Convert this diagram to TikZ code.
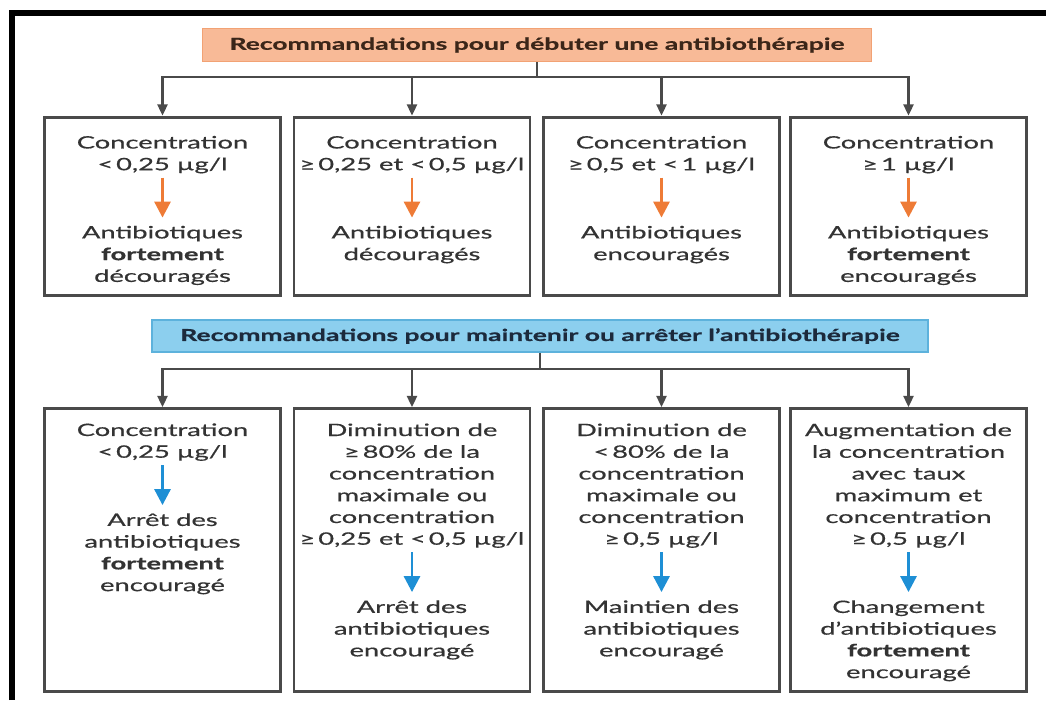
\documentclass[tikz,border=0pt]{standalone}
\usepackage{fontspec}
\setmainfont{Lato}[FakeStretch=1.6, FakeBold=0.6]
\usetikzlibrary{positioning,arrows.meta}

\definecolor{hdrorange}{HTML}{F8BA97}
\definecolor{hdrorangeline}{HTML}{F2A274}
\definecolor{hdrblue}{HTML}{8CCFEE}
\definecolor{hdrblueline}{HTML}{5DB2DC}
\definecolor{arroworange}{HTML}{EE7B36}
\definecolor{arrowblue}{HTML}{1E8FD5}
\definecolor{boxgray}{HTML}{4A4A4A}
\definecolor{txtgray}{HTML}{333333}
\definecolor{hdrtxtbrown}{HTML}{3B2619}
\definecolor{hdrtxtnavy}{HTML}{1C2A3C}

\begin{document}
\begin{tikzpicture}[x=0.75pt,y=-0.75pt,
    font=\fontsize{12.8}{16.3}\selectfont,
    hdr/.style={inner sep=0pt, line width=1pt, font=\fontsize{12.4}{14}\selectfont\bfseries},
    box/.style={draw=boxgray, line width=2.2pt, minimum width=177pt, inner sep=0pt},
    txt/.style={align=center, inner sep=0pt, text=txtgray},
    down/.style={draw=boxgray, line width=1.8pt, -{Triangle[width=7.5pt,length=8.5pt]}},
    oarrow/.style={draw=arroworange, line width=2.2pt, shorten <=3pt, shorten >=6pt, -{Triangle[width=12pt,length=12pt]}},
    barrow/.style={draw=arrowblue, line width=2.2pt, shorten <=3pt, shorten >=6pt, -{Triangle[width=12pt,length=12pt]}}]
    \useasboundingbox (0,0) rectangle (1046,700);

    % Frame (cropped)
    \draw[line width=4.5pt] (11.5,700) |- (1046,13);

    % Headers
    \node[hdr, fill=hdrorange, draw=hdrorangeline, text=hdrtxtbrown, minimum width=502pt, minimum height=25pt] (start) at (537,45) {Recommandations pour débuter une antibiothérapie};
    \node[hdr, fill=hdrblue, draw=hdrblueline, text=hdrtxtnavy, minimum width=582pt, minimum height=24pt] (keep) at (540,336) {Recommandations pour maintenir ou arrêter l’antibiothérapie};

    % Junctions
    \coordinate (j1) at (537,77);
    \coordinate (j2) at (540,369);

    % First row boxes
    \node[box, minimum height=134pt] (c1) at (162.5,206.5) {};
    \node[box, minimum height=134pt] (c2) at (412,206.5) {};
    \node[box, minimum height=134pt] (c3) at (661.5,206.5) {};
    \node[box, minimum height=134pt] (c4) at (908.5,206.5) {};

    % Second row boxes
    \node[box, minimum height=212pt] (m1) at (162.5,550) {};
    \node[box, minimum height=212pt] (m2) at (412,550) {};
    \node[box, minimum height=212pt] (m3) at (661.5,550) {};
    \node[box, minimum height=212pt] (m4) at (908.5,550) {};

    % Tree connectors
    \draw[draw=boxgray, line width=1.8pt] (start) -- (j1);
    \draw[down] (j1) -| (c1.north);
    \draw[down] (j1) -| (c2.north);
    \draw[down] (j1) -| (c3.north);
    \draw[down] (j1) -| (c4.north);
    \draw[draw=boxgray, line width=1.8pt] (keep) -- (j2);
    \draw[down] (j2) -| (m1.north);
    \draw[down] (j2) -| (m2.north);
    \draw[down] (j2) -| (m3.north);
    \draw[down] (j2) -| (m4.north);

    % First row texts
    \node[txt, anchor=north] (c1a) at ([yshift=-15pt]c1.north) {Concentration\\<\,0,25 µg/l};
    \node[txt, below=39pt of c1a] (c1b) {Antibiotiques\\{\bfseries fortement}\\découragés};
    \node[txt, anchor=north] (c2a) at ([yshift=-15pt]c2.north) {Concentration\\≥\,0,25 et <\,0,5 µg/l};
    \node[txt, below=39pt of c2a] (c2b) {Antibiotiques\\découragés};
    \node[txt, anchor=north] (c3a) at ([yshift=-15pt]c3.north) {Concentration\\≥\,0,5 et <\,1 µg/l};
    \node[txt, below=39pt of c3a] (c3b) {Antibiotiques\\encouragés};
    \node[txt, anchor=north] (c4a) at ([yshift=-15pt]c4.north) {Concentration\\≥\,1 µg/l};
    \node[txt, below=39pt of c4a] (c4b) {Antibiotiques\\{\bfseries fortement}\\encouragés};

    \draw[oarrow] (c1a) -- (c1b);
    \draw[oarrow] (c2a) -- (c2b);
    \draw[oarrow] (c3a) -- (c3b);
    \draw[oarrow] (c4a) -- (c4b);

    % Second row texts
    \node[txt, anchor=north] (m1a) at ([yshift=-12pt]m1.north) {Concentration\\<\,0,25 µg/l};
    \node[txt, below=39pt of m1a] (m1b) {Arrêt des\\antibiotiques\\{\bfseries fortement}\\encouragé};
    \node[txt, anchor=north] (m2a) at ([yshift=-12pt]m2.north) {Diminution de\\≥\,80\% de la\\concentration\\maximale ou\\concentration\\≥\,0,25 et <\,0,5 µg/l};
    \node[txt, below=39pt of m2a] (m2b) {Arrêt des\\antibiotiques\\encouragé};
    \node[txt, anchor=north] (m3a) at ([yshift=-12pt]m3.north) {Diminution de\\<\,80\% de la\\concentration\\maximale ou\\concentration\\≥\,0,5 µg/l};
    \node[txt, below=39pt of m3a] (m3b) {Maintien des\\antibiotiques\\encouragé};
    \node[txt, anchor=north] (m4a) at ([yshift=-12pt]m4.north) {Augmentation de\\la concentration\\avec taux\\maximum et\\concentration\\≥\,0,5 µg/l};
    \node[txt, below=39pt of m4a] (m4b) {Changement\\d’antibiotiques\\{\bfseries fortement}\\encouragé};

    \draw[barrow] (m1a) -- (m1b);
    \draw[barrow] (m2a) -- (m2b);
    \draw[barrow] (m3a) -- (m3b);
    \draw[barrow] (m4a) -- (m4b);
\end{tikzpicture}
\end{document}
